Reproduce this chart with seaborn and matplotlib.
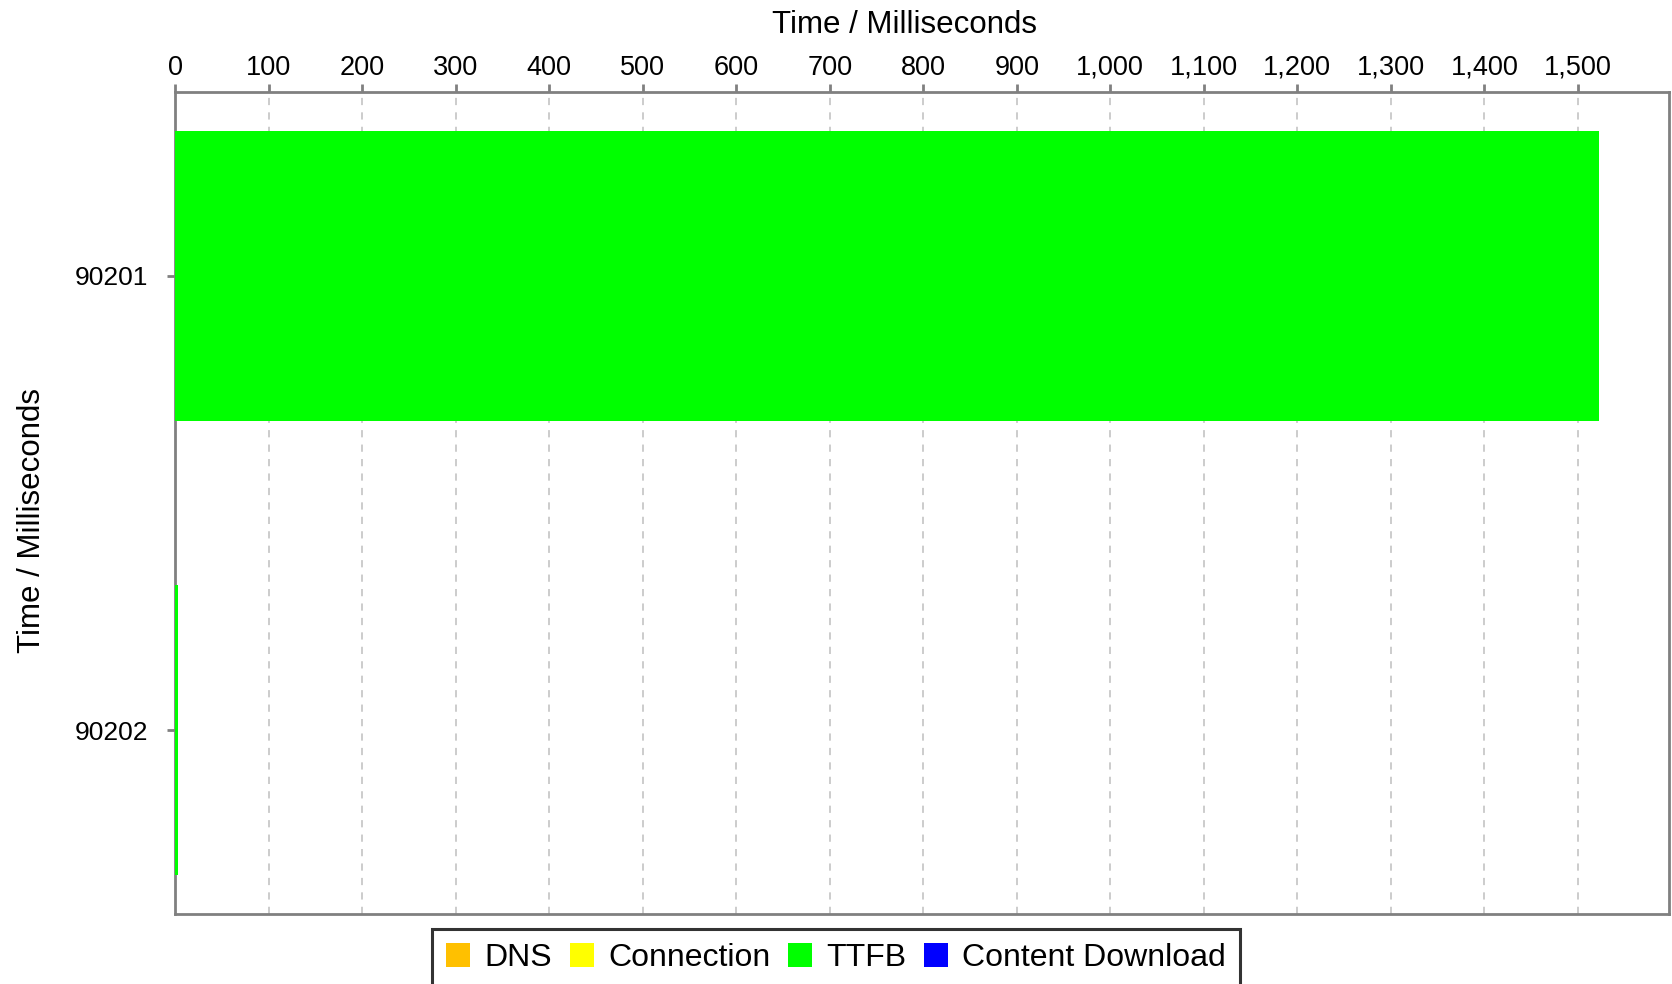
import pandas as pd
import matplotlib.pyplot as plt
import seaborn as sns
from matplotlib.patches import Patch
from matplotlib.ticker import FuncFormatter, MultipleLocator

# Datos (milisegundos)
pruebas = ["90201", "90202"]
dns = [0, 0]
conexion = [0, 0]
ttfb = [1522, 3]
descarga = [0, 0]

fases = ["DNS", "Connection", "TTFB", "Content Download"]
colores = ["#FFC000", "#FFFF00", "#00FF00", "#0000FF"]

df = pd.DataFrame({"prueba": pruebas, "DNS": dns, "Connection": conexion,
                   "TTFB": ttfb, "Content Download": descarga})
acum = df[fases].cumsum(axis=1)
acum["prueba"] = df["prueba"]

sns.set_style("white")
plt.rcParams["font.family"] = ["Liberation Sans", "DejaVu Sans"]
plt.rcParams["text.color"] = "black"
plt.rcParams["axes.labelcolor"] = "black"
plt.rcParams["xtick.labelcolor"] = "black"
plt.rcParams["ytick.labelcolor"] = "black"

fig = plt.figure(figsize=(16.72, 9.84), dpi=100)
ax = fig.add_axes([0.1047, 0.0711, 0.8933, 0.8354])

# barras apiladas: se dibuja del total hacia la primera fase
for fase, color in reversed(list(zip(fases, colores))):
    sns.barplot(data=acum, x=fase, y="prueba", orient="h", color=color,
                width=0.64, saturation=1, edgecolor="none", ax=ax, zorder=3)

ax.set_xlim(0, 1597)
ax.set_ylim(1.405, -0.405)
ax.xaxis.tick_top()
ax.xaxis.set_label_position("top")
ax.xaxis.set_major_locator(MultipleLocator(100))
ax.xaxis.set_major_formatter(FuncFormatter(lambda v, p: f"{int(v):,}"))

ax.grid(axis="x", color="#c8c8c8", linestyle=(0, (4, 4)), linewidth=1.3, zorder=0)
ax.set_axisbelow(True)

for s in ax.spines.values():
    s.set_color("#808080")
    s.set_linewidth(2)
    s.set_visible(True)

ax.tick_params(axis="x", top=True, bottom=False, length=6, width=2, color="#808080",
               labelsize=19.5, pad=2, direction="out", labelcolor="black")
ax.tick_params(axis="y", left=True, length=6, width=2, color="#808080",
               labelsize=19, pad=13.5, direction="out", labelcolor="black")

ax.set_xlabel("Time / Milliseconds", fontsize=22.5, color="black")
ax.set_ylabel("Time / Milliseconds", fontsize=22.5, color="black")
ax.xaxis.set_label_coords(0.4886, 1.0718)
ax.yaxis.set_label_coords(-0.086, 0.479)

handles = [Patch(facecolor=c, edgecolor="none", label=f) for f, c in zip(fases, colores)]
leg = fig.legend(handles=handles, loc="upper center", bbox_to_anchor=(0.5, 0.056),
                 ncol=4, fontsize=23, frameon=True, fancybox=False,
                 handlelength=0.75, handleheight=0.75, handletextpad=0.45,
                 columnspacing=0.55, borderpad=0.45, borderaxespad=0)
leg.get_frame().set_edgecolor("black")
leg.get_frame().set_linewidth(2.2)
for t in leg.get_texts():
    t.set_color("black")

fig.savefig("out.png", dpi=100)
